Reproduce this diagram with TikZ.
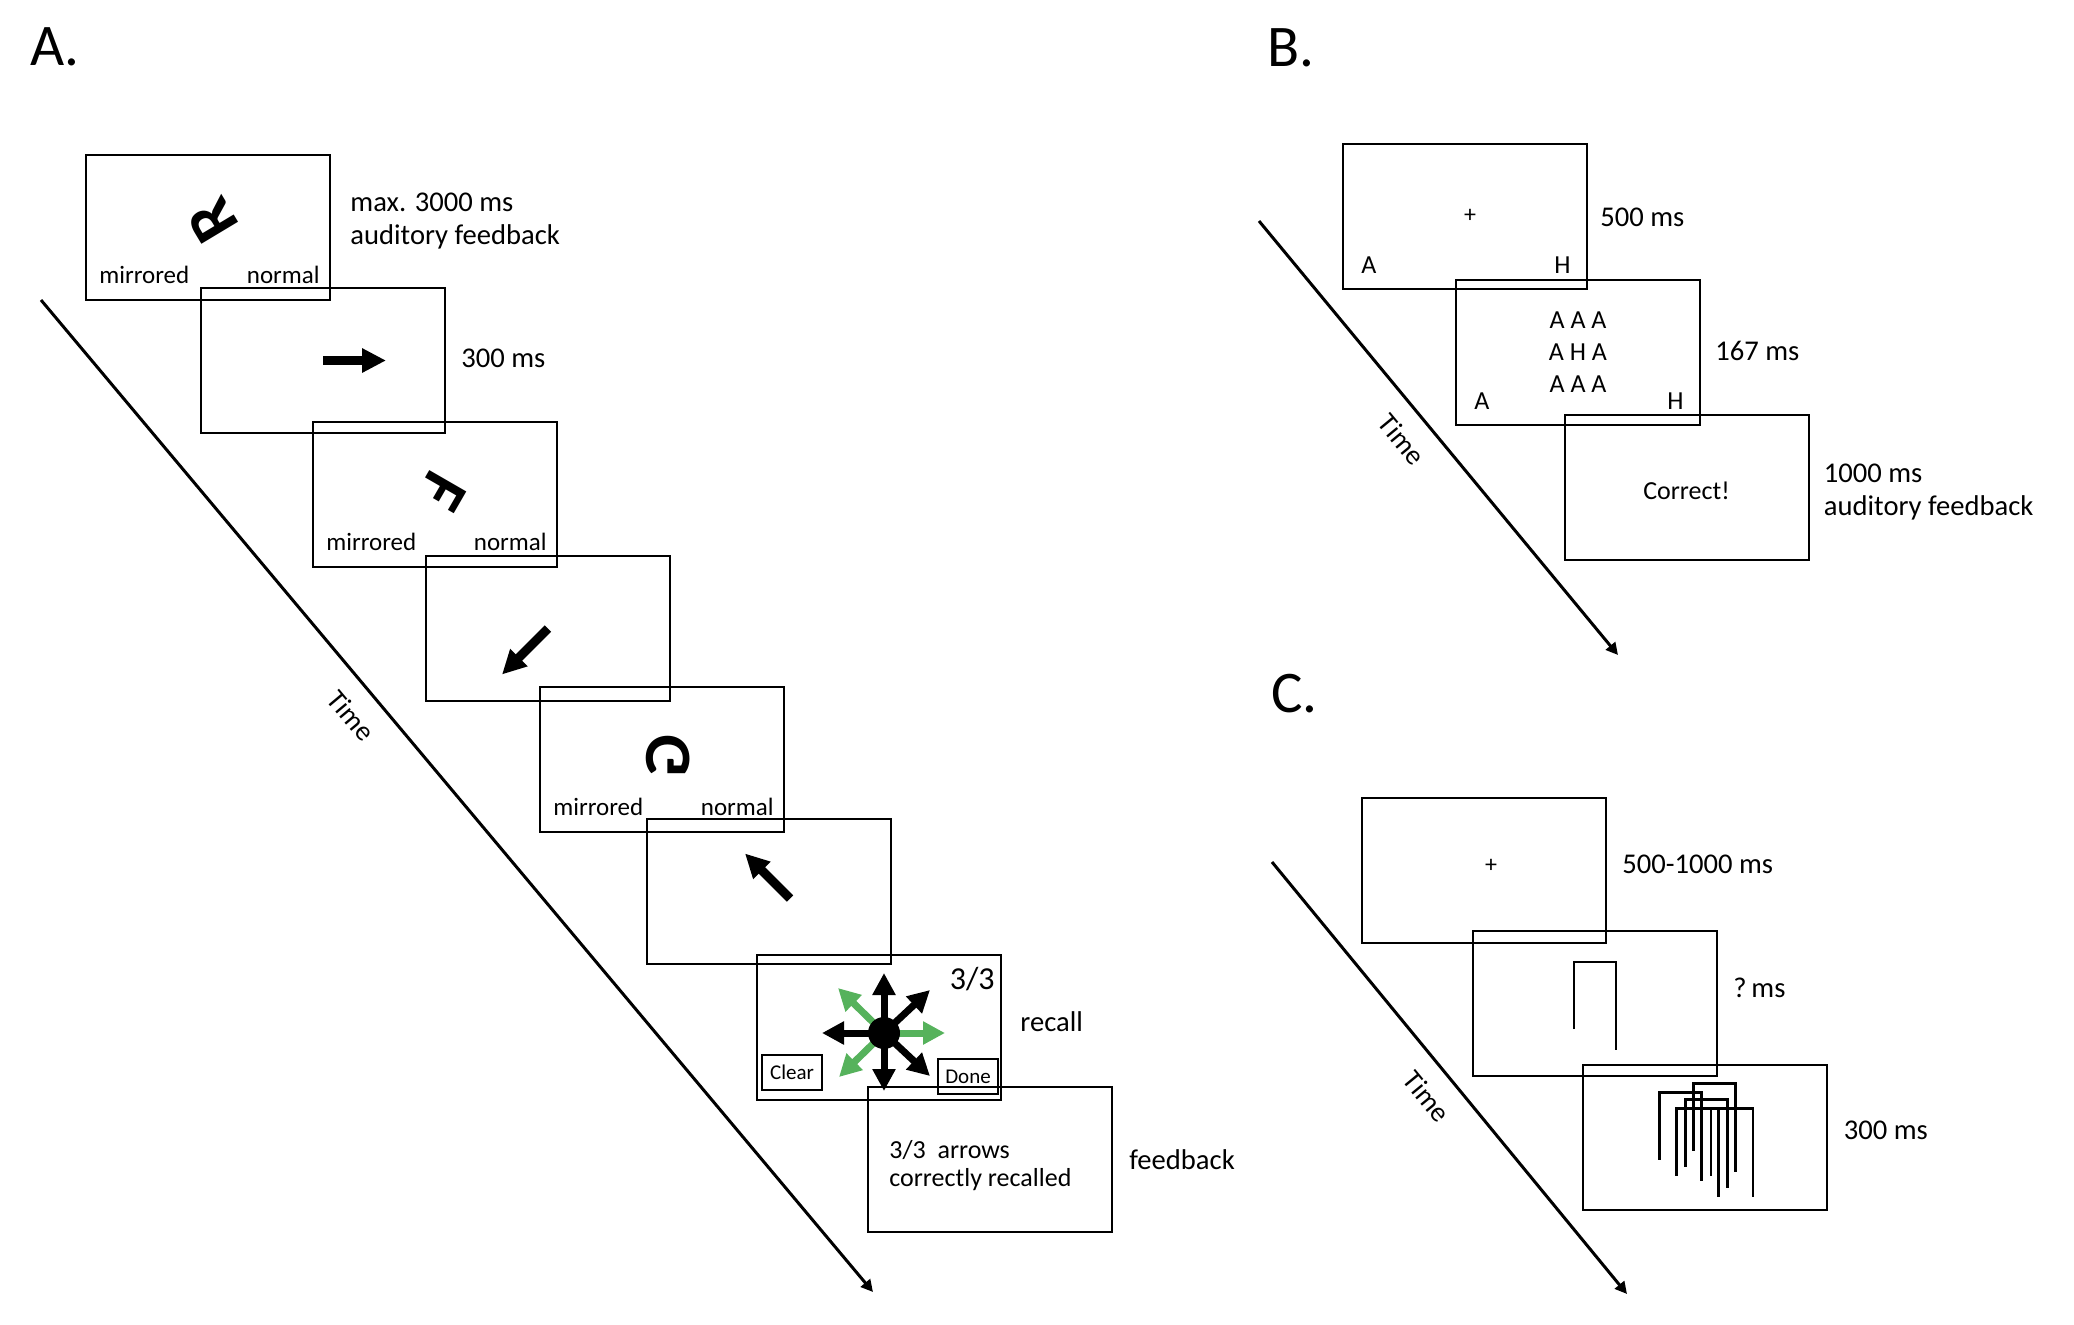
\documentclass[tikz,border=0pt]{standalone}
\usepackage{fontspec}
\setmainfont{Carlito}
\usepackage{graphicx}
\usepackage{xcolor}
\usetikzlibrary{arrows.meta, positioning}
\definecolor{recallgreen}{RGB}{86,178,92}

\begin{document}
\begin{tikzpicture}[x=0.5pt, y=-0.5pt,
    screen/.style={draw, line width=1pt, minimum width=122pt, minimum height=72.5pt, inner sep=0pt},
    panel/.style={font=\fontsize{29.5}{32}\selectfont, inner sep=0pt},
    lbl/.style={font=\fontsize{14.3}{16.5}\selectfont, align=left, inner sep=0pt},
    side/.style={font=\fontsize{12.5}{15}\selectfont, inner sep=0pt},
    glyph/.style={font=\fontsize{33}{36}\selectfont\bfseries, inner sep=0pt},
    stim/.style={font=\fontsize{13}{16}\selectfont, align=center, inner sep=0pt},
    fix/.style={font=\fontsize{12}{14}\selectfont, inner sep=0pt},
    btn/.style={draw, line width=0.9pt, minimum width=30pt, minimum height=17.5pt, inner sep=0pt, font=\fontsize{10.5}{12}\selectfont},
    dot/.style={circle, fill, minimum size=16pt, inner sep=0pt},
    bigarrow/.style={line width=4.5pt, -{Triangle[length=12pt,width=11.5pt]}},
    recallarrow/.style={line width=3.5pt, -{Triangle[length=11pt,width=11pt]}},
    timeline/.style={line width=1.5pt, -{Triangle[length=6pt,width=6pt]}},
    timelbl/.style={sloped, below=9pt, font=\fontsize{14}{16}\selectfont, inner sep=0pt},
    hook/.pic={\draw[line width=1.3pt] (0,67) -- (0,0) -- (42,0) -- (42,88);}
]
\useasboundingbox (0,0) rectangle (2074,1324);

% A: mental rotation with arrow span
\node[panel, anchor=base west] (pA) at (30,65) {A.};
\node[screen] (a0) at (208,227.5) {};
\node[screen] (a1) at (323,360.5) {};
\node[screen] (a2) at (435,494.5) {};
\node[screen] (a3) at (548,628.5) {};
\node[screen] (a4) at (662,759.5) {};
\node[screen] (a5) at (769,891.5) {};
\node[screen] (a6) at (879,1027.5) {};
\node[screen] (a7) at (990,1159.5) {};

\node[glyph, rotate=121] (r0) at (213,221) {R};
\node[glyph, rotate=-120] (r2) at (442,491) {F};
\node[glyph, rotate=90] (r4) at (668,756) {\reflectbox{G}};
\foreach \s in {a0,a2,a4} {
  \node[side, anchor=base west] at ([shift={(14,-18)}]\s.south west) {mirrored};
  \node[side, anchor=base east] at ([shift={(-11,-18)}]\s.south east) {normal};
}

\draw[bigarrow] (a1.center) -- ++(63,0);
\draw[bigarrow] (a3.center) -- ++(-46,46);
\draw[bigarrow] ([shift={(21,7)}]a5.center) -- ++(-45,-45);

\coordinate (hub) at (884,1033);
\foreach \dx/\dy in {-46/-45, 61/0, -45/44}
  \draw[recallarrow, recallgreen] (hub) -- ++(\dx,\dy);
\foreach \dx/\dy in {0/-60, 0/58, -62/0, 46/-43, 46/43}
  \draw[recallarrow] (hub) -- ++(\dx,\dy);
\node[dot] (hubdot) at (hub) {};
\node[stim, font=\fontsize{16}{18}\selectfont, anchor=base east] (score) at ([shift={(-7,35)}]a6.north east) {3/3};
\node[btn] (clear) at ([shift={(36,-28.5)}]a6.south west) {Clear};
\node[btn] (done) at ([shift={(-34,-24.5)}]a6.south east) {Done};
\node[stim, anchor=west, align=left, font=\fontsize{13}{14}\selectfont] (fb) at ([shift={(22,6)}]a7.west) {3/3\ \ arrows\\correctly recalled};

\node[lbl, right=9.5pt of a0, yshift=3.2pt] (l0) {max. 3000 ms\\auditory feedback};
\node[lbl, right=7.5pt of a1, yshift=1.2pt] (l1) {300 ms};
\node[lbl, right=9pt of a6, yshift=2.8pt] (l6) {recall};
\node[lbl, right=8pt of a7] (l7) {feedback};

\coordinate (ta0) at (41,300);
\coordinate (ta1) at (873,1292);
\draw[timeline] (ta0) -- node[timelbl, pos=0.4] {Time} (ta1);

% B: flanker
\node[panel, anchor=base west] (pB) at (1267,66) {B.};
\node[screen] (b0) at (1465,216) {};
\node[screen] (b1) at (1578,352) {};
\node[screen] (b2) at (1686.5,487) {};
\node[fix] at ([xshift=2.5pt]b0.center) {+};
\node[stim] at (b1.center) {A A A\\A H A\\A A A};
\node[stim] at ([yshift=-2pt]b2.center) {Correct!};
\foreach \s in {b0,b1} {
  \node[stim, anchor=base west] at ([shift={(19,-16)}]\s.south west) {A};
  \node[stim, anchor=base east] at ([shift={(-17,-16)}]\s.south east) {H};
}
\node[lbl, right=6pt of b0, yshift=-0.5pt] (m0) {500 ms};
\node[lbl, right=7pt of b1, yshift=0.5pt] (m1) {167 ms};
\node[lbl, right=7pt of b2, yshift=-2.5pt] (m2) {1000 ms\\auditory feedback};

\coordinate (tb0) at (1259,221);
\coordinate (tb1) at (1618,655);
\draw[timeline] (tb0) -- node[timelbl, pos=0.46] {Time} (tb1);

% C: backward masking
\node[panel, anchor=base west] (pC) at (1271,712) {C.};
\node[screen] (c0) at (1484,870) {};
\node[screen] (c1) at (1595,1003.5) {};
\node[screen] (c2) at (1704.5,1137.5) {};
\node[fix] at ([shift={(3.5pt,2pt)}]c0.center) {+};
\pic at ([shift={(-21,-41.5)}]c1.center) {hook};
\foreach \dx/\dy in {-11/-54, -45/-45, -19/-38, 6.5/-29, -28/-29}
  \pic at ([shift={(\dx,\dy)}]c2.center) {hook};
\node[lbl, right=7.5pt of c0, yshift=3pt] (n0) {500-1000 ms};
\node[lbl, right=7.5pt of c1, yshift=8pt] (n1) {?\,ms};
\node[lbl, right=8pt of c2, yshift=3.7pt] (n2) {300 ms};

\coordinate (tc0) at (1272,862);
\coordinate (tc1) at (1627,1294);
\draw[timeline] (tc0) -- node[timelbl, pos=0.5] {Time} (tc1);
\end{tikzpicture}
\end{document}
